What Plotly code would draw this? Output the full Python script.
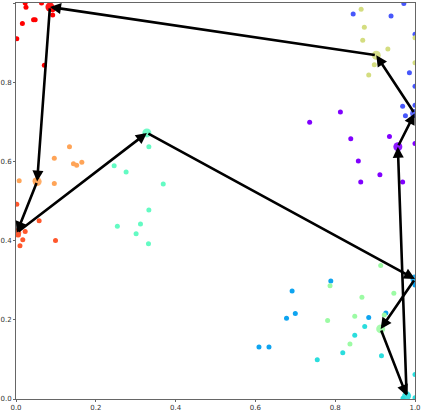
import numpy as np
import plotly.graph_objects as go

# ---- data ----
# cluster index -> colour position on the rainbow colormap (0..9)
cluster_ids = [0, 1, 2, 3, 4, 5, 6, 7, 8, 9]

points_x = {
    0: [0.813, 0.736, 0.839, 0.936, 0.858, 0.912, 0.864, 0.969, 1.0],
    1: [0.845, 0.940, 0.972, 1.0, 0.986, 1.0, 0.969, 0.976, 1.0],
    2: [1.0, 0.789, 0.692, 0.700, 0.678, 0.609, 0.634, 0.884, 0.927],
    3: [1.0, 0.874, 0.849, 0.819, 0.755, 0.916, 1.0, 0.970],
    4: [0.333, 0.246, 0.276, 0.369, 0.333, 0.254, 0.312, 0.301, 0.332],
    5: [0.914, 0.787, 0.947, 0.867, 0.849, 0.781, 0.923, 0.837],
    6: [0.865, 0.873, 0.869, 0.932, 0.898, 0.884, 1.0, 1.0],
    7: [0.008, 0.134, 0.096, 0.144, 0.152, 0.165, 0.096, 0.048],
    8: [0.002, 0.058, 0.023, 0.006, 0.017, 0.010, 0.099],
    9: [0.023, 0.025, 0.064, 0.092, 0.092, 0.016, 0.044, 0.048, 0.002, 0.071],
}
points_y = {
    0: [0.725, 0.699, 0.657, 0.663, 0.601, 0.566, 0.548, 0.548, 0.645],
    1: [0.972, 0.967, 0.999, 0.921, 0.824, 0.790, 0.739, 0.715, 0.742],
    2: [0.288, 0.298, 0.273, 0.216, 0.204, 0.131, 0.131, 0.206, 0.217],
    3: [0.003, 0.183, 0.161, 0.117, 0.099, 0.109, 0.062, 0.002],
    4: [0.637, 0.589, 0.573, 0.543, 0.477, 0.436, 0.442, 0.417, 0.392],
    5: [0.337, 0.286, 0.267, 0.257, 0.209, 0.198, 0.212, 0.139],
    6: [0.984, 0.939, 0.906, 0.884, 0.844, 0.818, 0.912, 0.849],
    7: [0.551, 0.637, 0.608, 0.594, 0.590, 0.598, 0.544, 0.552],
    8: [0.492, 0.450, 0.423, 0.414, 0.402, 0.387, 0.400],
    9: [1.0, 0.989, 1.0, 0.983, 0.970, 0.948, 0.958, 0.958, 0.910, 0.843],
}

centroid_x = [0.957, 0.999, 1.0, 0.979, 0.328, 0.914, 0.903, 0.053, 0.002, 0.085]
centroid_y = [0.637, 0.721, 0.303, 0.008, 0.672, 0.177, 0.868, 0.549, 0.420, 0.990]

# visiting order of the tour (closed loop)
tour = [9, 7, 8, 4, 2, 5, 3, 0, 1, 6]

tick_vals = [0.0, 0.2, 0.4, 0.6, 0.8, 1.0]
tick_text = ["0.0", "0.2", "0.4", "0.6", "0.8", "1.0"]


def rainbow(v):
    r = min(1.0, abs(2 * v - 0.5))
    g = np.sin(v * np.pi)
    b = np.cos(v * np.pi / 2)
    return "rgb(%d,%d,%d)" % (round(r * 255), round(g * 255), round(b * 255))


colors = [rainbow(i / 9) for i in cluster_ids]

fig = go.Figure()
for c in cluster_ids:
    fig.add_trace(go.Scatter(
        x=points_x[c], y=points_y[c], mode="markers",
        marker=dict(size=5, color=colors[c], line=dict(width=0)),
        showlegend=False, hoverinfo="skip"))
for c in cluster_ids:
    fig.add_trace(go.Scatter(
        x=[centroid_x[c]], y=[centroid_y[c]], mode="markers",
        marker=dict(size=9, color=colors[c], opacity=0.9, line=dict(width=0)),
        showlegend=False, hoverinfo="skip"))

for i in range(len(tour)):
    a = tour[i]
    b = tour[(i + 1) % len(tour)]
    fig.add_annotation(
        x=centroid_x[b], y=centroid_y[b], ax=centroid_x[a], ay=centroid_y[a],
        xref="x", yref="y", axref="x", ayref="y", text="",
        showarrow=True, arrowhead=2, arrowsize=0.85, arrowwidth=2.6,
        arrowcolor="black", standoff=0, startstandoff=0)

axis_common = dict(
    range=[0, 1], tickvals=tick_vals, ticktext=tick_text,
    showgrid=False, zeroline=False, showline=True, mirror=True,
    linecolor="#666", linewidth=1, ticks="outside", ticklen=2,
    tickcolor="#666", tickfont=dict(family="DejaVu Sans", size=7, color="#333"),
    automargin=False,
)
fig.update_xaxes(**axis_common)
fig.update_yaxes(**axis_common)

fig.update_layout(
    width=423, height=415,
    margin=dict(l=16, r=8, t=3, b=16),
    paper_bgcolor="white", plot_bgcolor="white",
)

fig.write_html("out.html",
               config={"displayModeBar": False},
               post_script="document.body.style.margin='0';document.body.style.overflow='hidden';")
